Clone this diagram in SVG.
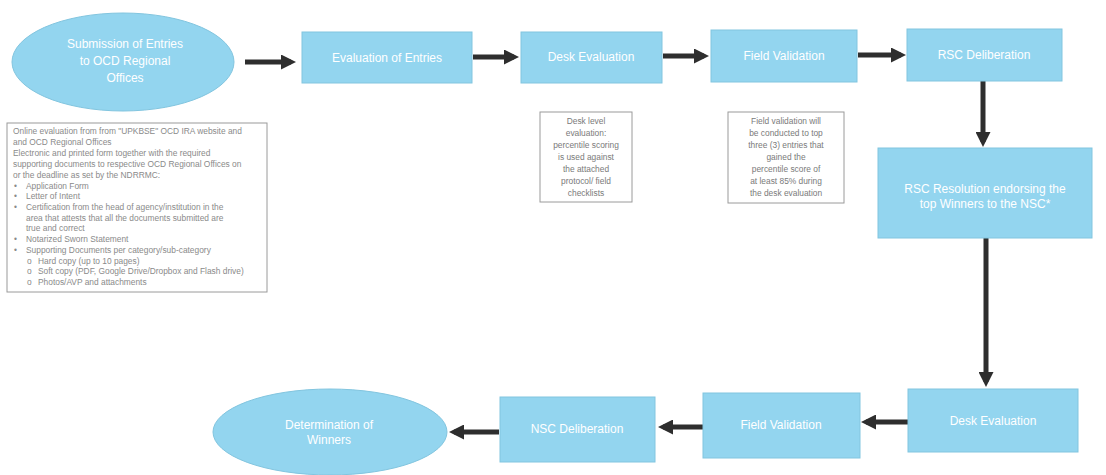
<svg xmlns="http://www.w3.org/2000/svg" width="1106" height="475" viewBox="0 0 1106 475">
<style>
.n{fill:#93d5ef;stroke:#82c5df;stroke-width:1}
.t{font-family:"Liberation Sans",Arial,sans-serif;font-size:12px;fill:#ffffff;text-anchor:middle}
.note{fill:#ffffff;stroke:#9a9a9a;stroke-width:1}
.nt{font-family:"Liberation Sans",Arial,sans-serif;font-size:8.4px;fill:#8a8a8a}
.nc{font-family:"Liberation Sans",Arial,sans-serif;font-size:8.4px;fill:#7a7a7a;text-anchor:middle}
.c{stroke:#2e2e2e;stroke-width:5;fill:none;marker-end:url(#ah)}
</style>
<defs>
<marker id="ah" markerWidth="3" markerHeight="3" refX="2" refY="1.5" orient="auto" markerUnits="strokeWidth">
<path d="M0,0 L3,1.5 L0,3 Z" fill="#2e2e2e"/>
</marker>
</defs>
<rect width="1106" height="475" fill="#ffffff"/>

<g id="connectors">
<line class="c" x1="245" y1="62" x2="291" y2="62"/>
<line class="c" x1="473" y1="57" x2="514" y2="57"/>
<line class="c" x1="663" y1="56" x2="704" y2="56"/>
<line class="c" x1="858" y1="55" x2="901" y2="55"/>
<line class="c" x1="983" y1="81" x2="983" y2="142"/>
<line class="c" x1="986" y1="238" x2="986" y2="382"/>
<line class="c" x1="908" y1="422" x2="866" y2="422"/>
<line class="c" x1="703" y1="427" x2="663" y2="427"/>
<line class="c" x1="499" y1="432" x2="454" y2="432"/>
</g>

<g id="n1">
<ellipse class="n" cx="123" cy="62" rx="111" ry="49"/>
<text class="t" x="125" y="48">Submission of Entries</text>
<text class="t" x="125" y="65">to OCD Regional</text>
<text class="t" x="125" y="82">Offices</text>
</g>
<g id="n2">
<rect class="n" x="302" y="32" width="170" height="51"/>
<text class="t" x="387" y="62">Evaluation of Entries</text>
</g>
<g id="n3">
<rect class="n" x="521" y="32" width="141" height="51"/>
<text class="t" x="591" y="61">Desk Evaluation</text>
</g>
<g id="n4">
<rect class="n" x="711" y="30" width="146" height="52"/>
<text class="t" x="784" y="60">Field Validation</text>
</g>
<g id="n5">
<rect class="n" x="907" y="29" width="155" height="52"/>
<text class="t" x="984" y="59">RSC Deliberation</text>
</g>
<g id="n6">
<rect class="n" x="878" y="148" width="214" height="90"/>
<text class="t" x="985" y="193">RSC Resolution endorsing the</text>
<text class="t" x="985" y="208">top Winners to the NSC*</text>
</g>
<g id="n7">
<rect class="n" x="908" y="389" width="170" height="63"/>
<text class="t" x="993" y="425">Desk Evaluation</text>
</g>
<g id="n8">
<rect class="n" x="703" y="393" width="157" height="65"/>
<text class="t" x="781" y="429">Field Validation</text>
</g>
<g id="n9">
<rect class="n" x="500" y="397" width="155" height="65"/>
<text class="t" x="577" y="433">NSC Deliberation</text>
</g>
<g id="n10">
<ellipse class="n" cx="330" cy="432" rx="117" ry="43"/>
<text class="t" x="329" y="429">Determination of</text>
<text class="t" x="329" y="444">Winners</text>
</g>

<g id="note1">
<rect class="note" x="7" y="123" width="260" height="169"/>
<text class="nt" x="13" y="134">Online evaluation from from "UPKBSE" OCD IRA website and</text>
<text class="nt" x="13" y="145">and OCD Regional Offices</text>
<text class="nt" x="13" y="156">Electronic and printed form together with the required</text>
<text class="nt" x="13" y="167">supporting documents to respective OCD Regional Offices on</text>
<text class="nt" x="13" y="178">or the deadline as set by the NDRRMC:</text>
<text class="nt" y="189"><tspan x="14">•</tspan><tspan x="26">Application Form</tspan></text>
<text class="nt" y="199"><tspan x="14">•</tspan><tspan x="26">Letter of Intent</tspan></text>
<text class="nt" y="210"><tspan x="14">•</tspan><tspan x="26">Certification from the head of agency/institution in the</tspan></text>
<text class="nt" x="26" y="221">area that attests that all the documents submitted are</text>
<text class="nt" x="26" y="231">true and correct</text>
<text class="nt" y="242"><tspan x="14">•</tspan><tspan x="26">Notarized Sworn Statement</tspan></text>
<text class="nt" y="253"><tspan x="14">•</tspan><tspan x="26">Supporting Documents per category/sub-category</tspan></text>
<text class="nt" y="264"><tspan x="27">o</tspan><tspan x="38">Hard copy (up to 10 pages)</tspan></text>
<text class="nt" y="274"><tspan x="27">o</tspan><tspan x="38">Soft copy (PDF, Google Drive/Dropbox and Flash drive)</tspan></text>
<text class="nt" y="285"><tspan x="27">o</tspan><tspan x="38">Photos/AVP and attachments</tspan></text>
</g>

<g id="note2">
<rect class="note" x="540" y="112" width="92" height="90" stroke="#cfcfcf"/>
<text class="nc" x="586" y="124">Desk level</text>
<text class="nc" x="586" y="136">evaluation:</text>
<text class="nc" x="586" y="148">percentile scoring</text>
<text class="nc" x="586" y="160">is used against</text>
<text class="nc" x="586" y="172">the attached</text>
<text class="nc" x="586" y="184">protocol/ field</text>
<text class="nc" x="586" y="196">checklists</text>
</g>

<g id="note3">
<rect class="note" x="728" y="112" width="116" height="91"/>
<text class="nc" x="786" y="124">Field validation will</text>
<text class="nc" x="786" y="136">be conducted to top</text>
<text class="nc" x="786" y="148">three (3) entries that</text>
<text class="nc" x="786" y="160">gained the</text>
<text class="nc" x="786" y="172">percentile score of</text>
<text class="nc" x="786" y="184">at least 85% during</text>
<text class="nc" x="786" y="196">the desk evaluation</text>
</g>
</svg>
